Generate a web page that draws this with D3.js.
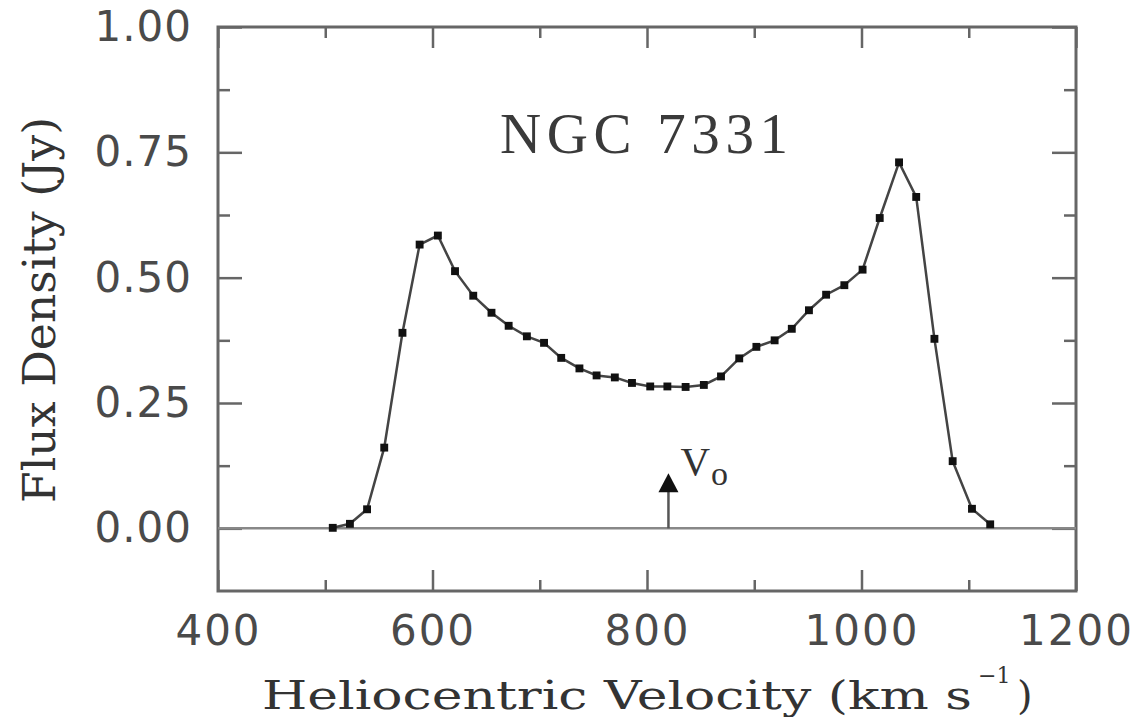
<!DOCTYPE html>
<html>
<head>
<meta charset="utf-8">
<script src="https://cdnjs.cloudflare.com/ajax/libs/d3/7.8.5/d3.min.js"></script>
<style>
  body { margin: 0; background: #fff; }
  svg { display: block; }
</style>
</head>
<body>
<script>

// HI profile of NGC 7331
var velocity = [507, 523, 539, 555, 572, 588, 605, 621, 638, 655,
                671, 688, 704, 720, 737, 753, 770, 786, 803, 819,
                836, 853, 869, 886, 902, 919, 935, 951, 967, 984,
                1001, 1017, 1035, 1051, 1068, 1085, 1103, 1120];
var flux = [0.001, 0.009, 0.038, 0.161, 0.390, 0.566, 0.584, 0.513, 0.464, 0.430,
            0.404, 0.383, 0.370, 0.340, 0.319, 0.305, 0.301, 0.290, 0.283, 0.283,
            0.282, 0.286, 0.303, 0.339, 0.362, 0.375, 0.398, 0.435, 0.466, 0.485,
            0.516, 0.619, 0.730, 0.661, 0.378, 0.134, 0.039, 0.008];

var xMajorTicks = [400, 600, 800, 1000, 1200];
var xMinorTicks = [500, 700, 900, 1100];
var yMajorTicks = [0, 0.25, 0.50, 0.75, 1.00];
var yMinorTicks = [0.125, 0.375, 0.625, 0.875];

// systemic velocity marker
var v0 = 820;
var v0Tip = 0.11;

var galaxyName = "NGC 7331";

window.onload = function() {
    drawChart();
};

function drawChart() {

    var w = 1145;
    var h = 717;
    var margin = {top: 27, right: 69, bottom: 126, left: 218};

    var frameColor = "#666";
    var textColor = "#4a4a4a";

    var svg = d3.select("body")
                .append("svg")
                .attr("width", w)
                .attr("height", h);

    var xScale = d3.scaleLinear()
                   .domain([400, 1200])
                   .range([margin.left, w - margin.right]);

    var yScale = d3.scaleLinear()
                   .domain([-0.125, 1.0])
                   .range([h - margin.bottom, margin.top]);

    // frame
    svg.append("rect")
       .attr("x", xScale(400))
       .attr("y", yScale(1.0))
       .attr("width", xScale(1200) - xScale(400))
       .attr("height", yScale(-0.125) - yScale(1.0))
       .attr("fill", "none")
       .attr("stroke", frameColor)
       .attr("stroke-width", 3);

    // ticks, all pointing inside the frame
    function tickAxis(axis, ticks, size, transform, padding) {
        var a = axis.tickValues(ticks).tickSize(-size).tickPadding(padding || 0);
        if (!padding) a.tickFormat("");
        var g = svg.append("g")
                   .attr("transform", transform)
                   .call(a);
        g.select(".domain").remove();
        g.selectAll(".tick line")
         .attr("stroke", frameColor)
         .attr("stroke-width", 2.5);
        return g;
    }

    var bottomY = "translate(0," + yScale(-0.125) + ")";
    var topY = "translate(0," + yScale(1.0) + ")";
    var leftX = "translate(" + xScale(400) + ",0)";
    var rightX = "translate(" + xScale(1200) + ",0)";

    var xAxisMajor = d3.axisBottom(xScale).tickFormat(d3.format("d"));
    var xLabels = tickAxis(xAxisMajor, xMajorTicks, 21, bottomY, 24);
    tickAxis(d3.axisBottom(xScale), xMinorTicks, 11, bottomY);
    tickAxis(d3.axisTop(xScale), xMajorTicks, 21, topY);
    tickAxis(d3.axisTop(xScale), xMinorTicks, 11, topY);

    var yAxisMajor = d3.axisLeft(yScale).tickFormat(d3.format(".2f"));
    var yLabels = tickAxis(yAxisMajor, yMajorTicks, 24, leftX, 26);
    tickAxis(d3.axisLeft(yScale), yMinorTicks, 12, leftX);
    tickAxis(d3.axisRight(yScale), yMajorTicks, 24, rightX);
    tickAxis(d3.axisRight(yScale), yMinorTicks, 12, rightX);

    xLabels.selectAll("text")
           .attr("font-family", "DejaVu Sans")
           .attr("font-size", 42)
           .attr("letter-spacing", 2)
           .attr("fill", textColor);

    yLabels.selectAll("text")
           .attr("font-family", "DejaVu Sans")
           .attr("font-size", 42)
           .attr("letter-spacing", 1)
           .attr("fill", textColor);

    // zero line
    svg.append("line")
       .attr("x1", xScale(400))
       .attr("x2", xScale(1200))
       .attr("y1", yScale(0))
       .attr("y2", yScale(0))
       .attr("stroke", "#888")
       .attr("stroke-width", 2.5);

    var dataset = velocity.map(function(v, i) { return [v, flux[i]]; });

    var line = d3.line()
                 .x(function(d) { return xScale(d[0]); })
                 .y(function(d) { return yScale(d[1]); });

    svg.append("path")
       .datum(dataset)
       .attr("d", line)
       .attr("fill", "none")
       .attr("stroke", "#444")
       .attr("stroke-width", 2.5);

    svg.selectAll(".point")
       .data(dataset)
       .enter()
       .append("path")
       .attr("class", "point")
       .attr("d", d3.symbol().type(d3.symbolSquare).size(62))
       .attr("transform", function(d) {
           return "translate(" + xScale(d[0]) + "," + yScale(d[1]) + ")";
       })
       .attr("fill", "#111");

    // V0 arrow
    var ax = xScale(v0);
    var tipY = yScale(v0Tip);
    svg.append("line")
       .attr("x1", ax).attr("x2", ax)
       .attr("y1", yScale(0)).attr("y2", tipY + 15)
       .attr("stroke", "#555")
       .attr("stroke-width", 2.5);
    svg.append("path")
       .attr("d", "M" + ax + "," + tipY + "L" + (ax + 10) + "," + (tipY + 19) + "L" + (ax - 10) + "," + (tipY + 19) + "Z")
       .attr("fill", "#111");

    var v0Label = svg.append("text")
       .attr("x", ax + 12)
       .attr("y", tipY + 2)
       .attr("font-family", "Liberation Serif")
       .attr("font-size", 41)
       .attr("fill", "#333");
    v0Label.append("tspan").text("V");
    v0Label.append("tspan")
       .attr("font-size", 34)
       .attr("dy", 10)
       .attr("dx", 1)
       .text("o");

    // title
    svg.append("text")
       .attr("x", 500)
       .attr("y", 153)
       .attr("font-family", "Liberation Serif")
       .attr("font-size", 57)
       .attr("textLength", 288)
       .attr("lengthAdjust", "spacing")
       .attr("fill", "#3a3a3a")
       .text(galaxyName);

    // x axis title
    svg.append("text")
       .attr("x", 262)
       .attr("y", 709)
       .attr("font-family", "DejaVu Serif")
       .attr("font-size", 40)
       .attr("textLength", 710)
       .attr("lengthAdjust", "spacingAndGlyphs")
       .attr("fill", "#333")
       .text("Heliocentric Velocity (km s");
    svg.append("text")
       .attr("x", 978)
       .attr("y", 683)
       .attr("font-family", "DejaVu Serif")
       .attr("font-size", 22)
       .attr("fill", "#333")
       .text("\u22121");
    svg.append("text")
       .attr("x", 1017)
       .attr("y", 709)
       .attr("font-family", "DejaVu Serif")
       .attr("font-size", 40)
       .attr("fill", "#333")
       .text(")");

    // y axis title
    svg.append("text")
       .attr("transform", "translate(55,503) rotate(-90)")
       .attr("font-family", "DejaVu Serif")
       .attr("font-size", 44)
       .attr("textLength", 386)
       .attr("lengthAdjust", "spacingAndGlyphs")
       .attr("fill", "#333")
       .text("Flux Density (Jy)");
}
</script>
</body>
</html>
